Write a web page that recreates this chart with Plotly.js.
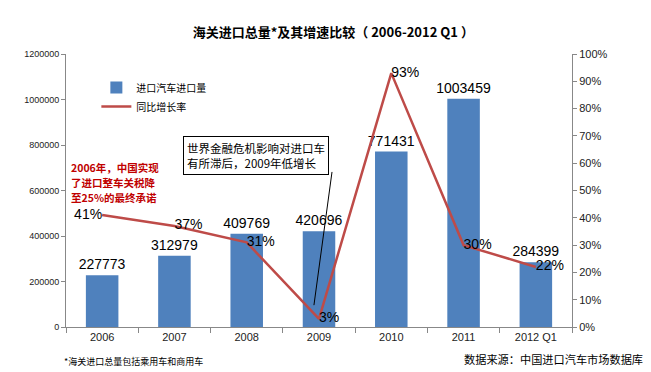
<!DOCTYPE html>
<html><head><meta charset="utf-8">
<script src="https://cdn.plot.ly/plotly-2.35.2.min.js"></script>
<style>html,body{margin:0;padding:0;background:#fff;}</style>
</head><body><div id="chart" style="width:651px;height:372px;"></div>
<script>
const categories = ['2006','2007','2008','2009','2010','2011','2012 Q1'];
const importVolume = [227773, 312979, 409769, 420696, 771431, 1003459, 284399];
const growthRate = [41, 37, 31, 3, 93, 30, 22];
const growthLabels = ['41%','37%','31%','3%','93%','30%','22%'];
const leftTicks = [0,200000,400000,600000,800000,1000000,1200000];
const rightTicks = [0,10,20,30,40,50,60,70,80,90,100];
const noteLines = ['2006年，中国实现','了进口整车关税降','至25%的最终承诺'];

const rateTextPos = ['middle left','middle right','middle right','middle right','middle right','middle right','middle right'];
const numFont = 'Liberation Sans, Arial, sans-serif';
const cjk = 'Noto Sans CJK SC, sans-serif';

const traces = [
  {type:'bar', x:categories, y:importVolume, name:'进口汽车进口量',
   marker:{color:'#4F81BD'}, text:importVolume.map(String), textposition:'outside', constraintext:'none',
   textfont:{family:numFont,size:14,color:'#000'}, cliponaxis:false, hoverinfo:'none'},
  {type:'scatter', mode:'lines+text', x:categories, y:growthRate, yaxis:'y2', name:'同比增长率',
   line:{color:'#BE4B48',width:2.5}, text:growthLabels, textposition:rateTextPos,
   textfont:{family:numFont,size:14,color:'#000'}, cliponaxis:false, hoverinfo:'none'}
];

const noteAnns = noteLines.map((t,i)=>({xref:'paper', yref:'paper', x:0.005, y:0.585 - i*0.055,
  xanchor:'left', yanchor:'middle', showarrow:false, text:'<b>'+t+'</b>',
  font:{family:cjk,size:10.5,color:'#C00000'}}));

const layout = {
  width:651, height:372,
  margin:{l:66, r:79, t:54, b:45},
  paper_bgcolor:'#fff', plot_bgcolor:'#fff',
  title:{text:'<b>海关进口总量*及其增速比较（ 2006-2012 Q1 ）</b>', x:0.512, xanchor:'center', y:0.912, yanchor:'middle',
         font:{family:cjk, size:13, color:'#000'}},
  bargap:0.55,
  showlegend:true,
  legend:{x:0.06, y:0.93, xanchor:'left', yanchor:'top', bgcolor:'rgba(0,0,0,0)',
          font:{family:cjk,size:10,color:'#000'}, tracegroupgap:0, itemwidth:30},
  xaxis:{type:'category', showgrid:false, showline:true, linecolor:'#888', linewidth:1,
         ticks:'outside', tickson:'boundaries', ticklen:5, tickcolor:'#888',
         tickfont:{family:numFont,size:11,color:'#222'}, zeroline:false},
  yaxis:{range:[0,1200000], tickvals:leftTicks, ticktext:leftTicks.map(String), showgrid:false,
         showline:true, linecolor:'#888', ticks:'outside', ticklen:4, tickcolor:'#888',
         tickfont:{family:numFont,size:9,color:'#222'}, zeroline:false},
  yaxis2:{range:[0,100], overlaying:'y', side:'right', tickvals:rightTicks, ticktext:rightTicks.map(v=>v+'%'),
          showgrid:false, showline:true, linecolor:'#888', ticks:'outside', ticklen:4, tickcolor:'#888',
          tickfont:{family:numFont,size:11,color:'#222'}, zeroline:false},
  shapes:[
    {type:'line', xref:'x', yref:'y2', x0:3.18, y0:56.8, x1:2.93, y1:8, line:{color:'#000', width:1}}
  ],
  annotations:[
    {xref:'paper', yref:'paper', x:0.375, y:0.628, xanchor:'center', yanchor:'middle', showarrow:false,
     text:'世界金融危机影响对进口车<br>有所滞后，2009年低增长', align:'left',
     font:{family:cjk,size:11.5,color:'#000'}, bordercolor:'#000', borderwidth:1, borderpad:3, bgcolor:'#fff'},
    ...noteAnns,
    {xref:'paper', yref:'paper', x:-0.008, y:-0.128, xanchor:'left', yanchor:'middle', showarrow:false,
     text:'*海关进口总量包括乘用车和商用车', font:{family:cjk,size:9,color:'#000'}},
    {xref:'paper', yref:'paper', x:1.145, y:-0.118, xanchor:'right', yanchor:'middle', showarrow:false,
     text:'数据来源：中国进口汽车市场数据库', font:{family:cjk,size:11.2,color:'#000'}}
  ]
};
Plotly.newPlot('chart', traces, layout, {displayModeBar:false, staticPlot:true});
</script></body></html>
